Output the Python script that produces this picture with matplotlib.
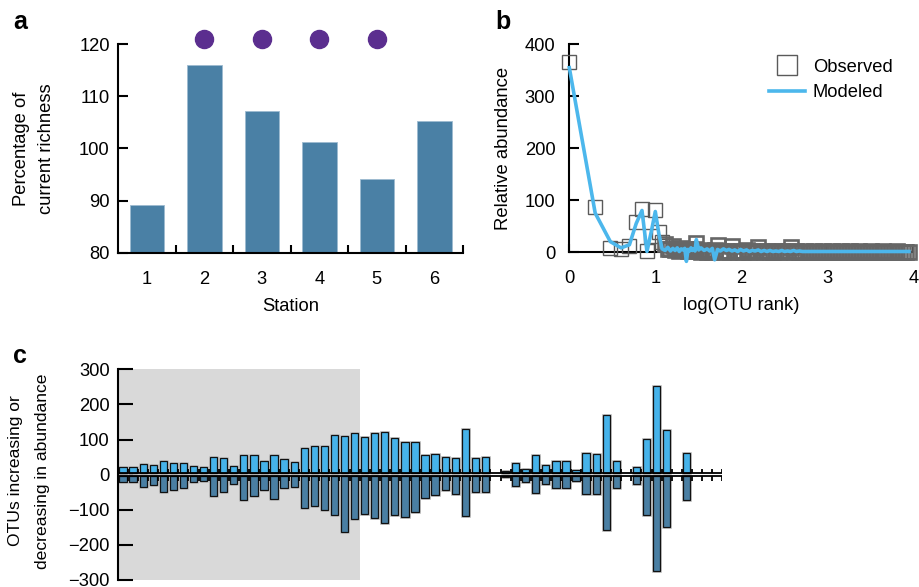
import numpy as np
import matplotlib.pyplot as plt
import matplotlib.patheffects as pe

plt.rcParams['font.family'] = ['Liberation Sans', 'DejaVu Sans']
plt.rcParams['font.size'] = 13.2

# --- a: richness per station (% of current)
stations = [1, 2, 3, 4, 5, 6]
richness = [89.2, 116.1, 107.2, 101.2, 94.1, 105.2]
signif_stations = [2, 3, 4, 5]
signif_level = [121, 121, 121, 121]

# --- b: rank-abundance, observed vs modeled
otu_rank = [1, 2, 3, 4, 5, 6, 7, 8, 9, 10,
            11, 12, 13, 14, 15, 16, 17, 18, 19, 20,
            21, 22, 23, 24, 25, 26, 27, 28, 29, 30,
            32, 34, 37, 40, 43, 46, 49, 53, 57, 62,
            67, 72, 78, 84, 91, 98, 106, 115, 124, 134,
            145, 157, 170, 184, 199, 215, 233, 252, 273, 295,
            319, 345, 374, 405, 438, 474, 513, 555, 601, 651,
            705, 763, 826, 894, 968, 1048, 1135, 1229, 1331, 1441,
            1560, 1689, 1829, 1980, 2144, 2321, 2513, 2721, 2946, 3190,
            3454, 3740, 4050, 4385, 4748, 5141, 5567, 6028, 6527, 7067,
            7652, 8285, 8900]
observed = [365, 87, 7, 5, 12, 58, 82, 2, 30, 80,
            38, 20, 16, 6, 5, 12, 3, 6, 2, 8,
            4, 3, 5, 2, 6, 3, 4, 2, 5, 18,
            2, 1, 3, 1, 2, 1, 3, 13, 2, 1,
            2, 1, 11, 2, 1, 2, 1, 3, 1, 2,
            1, 10, 2, 1, 2, 1, 1, 2, 1, 2,
            1, 2, 10, 1, 2, 1, 1, 2, 1, 1,
            2, 1, 1, 2, 1, 1, 2, 1, 1, 2,
            1, 1, 2, 1, 1, 2, 1, 1, 1, 2,
            1, 1, 1, 2, 1, 1, 1, 1, 2, 1,
            1, 1, 1]
modeled = [355, 75, 20, 8, 14, 55, 80, 1, 40, 78,
           35, 6, 3, 9, 2, 7, 3, 8, 1, 6,
           4, 7, -18, 5, 2, 8, 3, 6, 2, 24,
           4, 8, 3, 6, 2, 7, -15, 5, 2, 6,
           3, 5, 2, 4, 1, 5, 2, 4, 1, 3,
           2, 4, 1, 3, 1, 3, 1, 2, 1, 3,
           1, 2, 1, 3, 1, 2, 1, 1, 1, 1,
           1, 1, 1, 1, 1, 1, 1, 1, 1, 1,
           1, 1, 1, 1, 1, 1, 1, 1, 1, 1,
           1, 1, 1, 1, 1, 1, 1, 1, 1, 1,
           1, 1, 1]
dense_from_rank = 12  # beyond this the squares pile up into a solid band

# --- c: OTUs increasing / decreasing per comparison
up_counts = [18, 17, 26, 23, 34, 29, 29, 20, 16, 44,
             41, 20, 50, 50, 33, 52, 39, 30, 70, 78,
             78, 107, 104, 113, 103, 113, 116, 100, 87, 87,
             50, 55, 45, 41, 126, 43, 45, 0, 5, 29,
             11, 52, 23, 35, 35, 9, 57, 54, 165, 34,
             0, 18, 96, 247, 122, 0, 57, 0, 0, 0]
down_counts = [-15, -15, -30, -24, -45, -38, -33, -15, -12, -56,
               -45, -21, -68, -56, -40, -64, -32, -31, -90, -83,
               -97, -110, -158, -121, -107, -118, -133, -109, -117, -102,
               -61, -53, -40, -50, -112, -44, -44, 0, -2, -27,
               -17, -48, -22, -32, -32, -12, -49, -49, -152, -34,
               0, -22, -111, -270, -145, 0, -67, 0, 0, 0]
shaded_upto = 24  # first 24 comparisons sit in the grey block

W, H = 919, 587
fig = plt.figure(figsize=(W / 100, H / 100), dpi=100)


def px_axes(l, t, r, b):
    # axes from pixel box (left, top, right, bottom)
    return fig.add_axes([l / W, 1 - b / H, (r - l) / W, (b - t) / H])


def style(ax):
    for s in ['top', 'right']:
        ax.spines[s].set_visible(False)
    for s in ['left', 'bottom']:
        ax.spines[s].set_linewidth(1.5)


# ---------- panel a
ax_a = px_axes(118, 44.3, 463, 252.7)
style(ax_a)
ax_a.bar(stations, richness, width=0.6, color='#4a80a5',
         edgecolor='#9dbbd0', lw=0.6, zorder=2)
ax_a.plot(signif_stations, signif_level, 'o', ms=13, color='#5b2e8f',
          clip_on=False, zorder=3)
ax_a.set_xlim(0.5, 6.5)
ax_a.set_ylim(80, 120)
ax_a.set_yticks([80, 90, 100, 110, 120])
ax_a.set_xticks(np.arange(1.5, 7, 1))
ax_a.set_xticklabels([])
ax_a.set_xticks(stations, minor=True)
ax_a.set_xticklabels(stations, minor=True)
ax_a.tick_params(axis='x', which='major', direction='in', length=6, width=1.5)
ax_a.tick_params(axis='x', which='minor', length=0, pad=13)
ax_a.tick_params(axis='y', direction='in', length=7, width=1.5, pad=6)

# ---------- panel b
ax_b = px_axes(569.3, 44.3, 913.3, 267.6)
style(ax_b)
rank = np.array(otu_rank)
log_rank = np.log10(rank)
obs = np.array(observed)
head = rank <= dense_from_rank
ax_b.plot(log_rank[head], obs[head], 's', ms=9.6, mfc='none', mec='#5a5a5a',
          mew=1.0, clip_on=False, zorder=3, label='Observed')
ax_b.plot(log_rank[~head], obs[~head], 's', ms=9.4, mfc='none', mec='#666666',
          mew=1.9, clip_on=False, zorder=3)
ax_b.plot(log_rank, modeled, '-', color='#4cb7ec', lw=2.6,
          clip_on=False, zorder=4, label='Modeled')
ax_b.set_xlim(0, 4)
ax_b.set_ylim(-30, 400)
ax_b.spines['bottom'].set_position(('data', 0))
ax_b.spines['left'].set_bounds(0, 400)
ax_b.set_xticks([0, 1, 2, 3, 4])
ax_b.set_yticks([0, 100, 200, 300, 400])
ax_b.tick_params(axis='x', direction='in', length=6, width=1.5, pad=13)
ax_b.tick_params(axis='y', direction='in', length=7, width=1.5, pad=10)
ax_b.legend(loc='upper left', bbox_to_anchor=(0.58, 0.935), frameon=False,
            handlelength=2.0, handletextpad=0.4, labelspacing=0.45,
            borderpad=0, borderaxespad=0, markerscale=1.5, fontsize=13.2)

# ---------- panel c
ax_c = px_axes(118, 369.3, 722, 580)
for s in ['top', 'right', 'bottom']:
    ax_c.spines[s].set_visible(False)
ax_c.spines['left'].set_linewidth(1.5)
n = len(up_counts)
idx = np.arange(1, n + 1)
up = np.array(up_counts)
dn = np.array(down_counts)
gap = 5
halo = [pe.Stroke(linewidth=2.0, foreground='#c4c4c4'), pe.Normal()]
ax_c.axvspan(0.5, shaded_upto + 0.5, color='#d9d9d9', lw=0, zorder=0)
ax_c.bar(idx[up > 0], up[up > 0], width=0.72, bottom=gap, color='#46b3ea',
         edgecolor='#111111', lw=0.9, zorder=2, path_effects=halo)
ax_c.bar(idx[dn < 0], dn[dn < 0], width=0.72, bottom=-gap, color='#4a7fa3',
         edgecolor='#111111', lw=0.9, zorder=2, path_effects=halo)
ax_c.hlines([gap, -gap], 0.5, n + 0.5, color='black', lw=1.3, zorder=3)
bounds = np.arange(1.5, n + 1, 1)
ax_c.vlines(bounds, gap, gap + 11, color='black', lw=1.3, zorder=3)
ax_c.vlines(bounds, -gap - 13, -gap, color='black', lw=1.3, zorder=3)
ax_c.set_xlim(0.5, n + 0.5)
ax_c.set_ylim(-300, 300)
ax_c.set_xticks([])
ax_c.set_yticks(np.arange(-300, 301, 100))
ax_c.tick_params(axis='y', direction='in', length=11, width=1.5, pad=6)

# ---------- labels
fig.text(13 / W, 1 - 29 / H, 'a', fontsize=18, fontweight='bold', va='baseline')
fig.text(495 / W, 1 - 29 / H, 'b', fontsize=18, fontweight='bold', va='baseline')
fig.text(13 / W, 1 - 363 / H, 'c', fontsize=18, fontweight='bold', va='baseline')

fig.text(34 / W, 1 - 148.5 / H, 'Percentage of\ncurrent richness',
         rotation=90, ha='center', va='center', multialignment='center',
         fontsize=13.2, linespacing=1.6)
fig.text(503.5 / W, 1 - 148 / H, 'Relative abundance',
         rotation=90, ha='center', va='center', fontsize=13.3)
fig.text(29.5 / W, 1 - 471 / H, 'OTUs increasing or\ndecreasing in abundance',
         rotation=90, ha='center', va='center', multialignment='center',
         fontsize=12.6, linespacing=2.0)
fig.text(290.5 / W, 1 - 306.5 / H, 'Station', ha='center', va='center')
fig.text(741 / W, 1 - 306 / H, 'log(OTU rank)', ha='center', va='center')

fig.savefig('out.png', dpi=100)
